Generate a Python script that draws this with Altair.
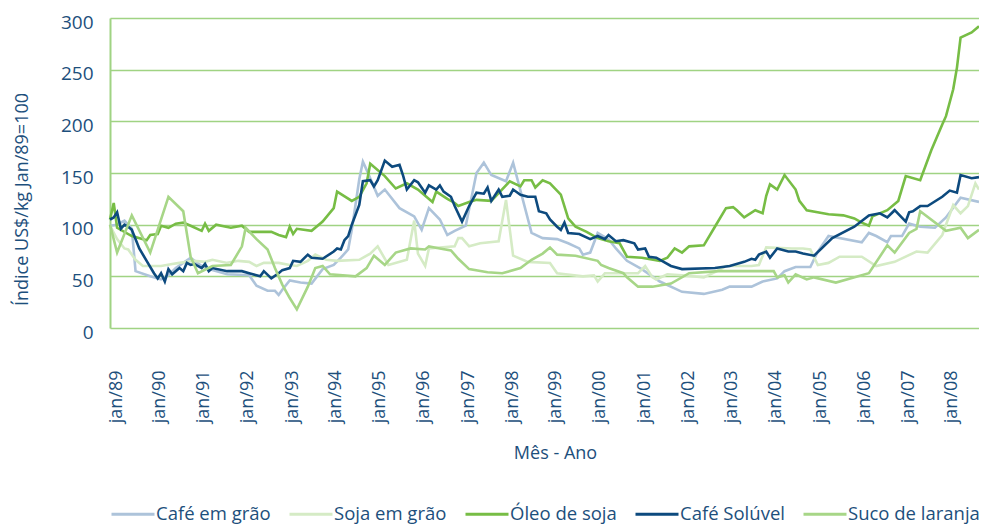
import altair as alt
import pandas as pd

SERIES = ["Café em grão", "Soja em grão", "Óleo de soja", "Café Solúvel", "Suco de laranja"]
COLORS = ["#adc3da", "#d5ebc5", "#77bd45", "#0d4a7e", "#a7d687"]

cafe_grao_dates = ["1989-01","1989-03","1989-05","1989-07","1989-08","1989-12","1990-03","1990-05","1990-07","1990-11",
    "1991-02","1991-05","1991-09","1992-03","1992-05","1992-08","1992-10","1992-11","1992-12","1993-02","1993-05","1993-08",
    "1993-11","1994-02","1994-04","1994-06","1994-07","1994-09","1994-10","1994-11","1995-02","1995-04","1995-08","1995-12",
    "1996-02","1996-04","1996-07","1996-09","1996-11","1997-02","1997-05","1997-07","1997-09","1998-01","1998-03","1998-08",
    "1998-11","1999-03","1999-06","1999-09","1999-10","1999-12","2000-02","2000-05","2000-07","2000-10","2001-02","2001-07",
    "2002-01","2002-07","2002-12","2003-02","2003-08","2003-11","2004-03","2004-05","2004-08","2004-12","2005-02","2005-05",
    "2006-02","2006-04","2006-06","2006-09","2006-10","2007-01","2007-03","2007-06","2007-10","2008-01","2008-05","2008-10"]
cafe_grao_vals = [99,100,104,96,55,50,47,51,58,68,
    60,56,52,51,41,36,36,32,37,46,44,43,
    57,61,68,76,95,144,161,153,128,134,116,108,
    95,116,105,90,94,99,150,160,148,142,160,92,
    87,86,82,77,71,73,92,86,77,65,57,45,
    35,33,37,40,40,45,48,55,59,59,74,89,
    83,92,89,83,89,89,101,98,97,107,126,122]

soja_grao_dates = ["1989-01","1989-03","1989-05","1989-06","1989-08","1989-10","1990-01","1990-03","1990-06","1990-08",
    "1990-12","1991-03","1991-05","1991-09","1991-12","1992-03","1992-05","1992-07","1992-11","1993-02","1993-04","1993-07",
    "1993-09","1993-12","1994-03","1994-09","1994-12","1995-02","1995-05","1995-10","1995-12","1996-01","1996-03","1996-04",
    "1996-11","1996-12","1997-01","1997-03","1997-06","1997-11","1998-01","1998-03","1998-07","1999-01","1999-03","1999-10",
    "2000-01","2000-02","2000-04","2000-11","2001-01","2001-03","2001-05","2001-06","2001-09","2002-01","2002-07","2002-10",
    "2003-01","2003-08","2003-10","2003-12","2004-07","2004-10","2004-12","2005-02","2005-05","2005-08","2006-02","2006-06",
    "2006-11","2007-05","2007-08","2007-12","2008-03","2008-05","2008-07","2008-09","2008-10"]
soja_grao_vals = [99,86,77,76,66,60,60,60,62,63,
    65,64,66,63,65,64,60,63,63,61,60,65,
    71,66,65,66,72,79,61,66,104,72,60,77,
    79,87,87,79,82,84,124,70,64,63,53,50,
    51,45,53,53,53,60,49,47,52,51,49,54,
    60,60,61,78,77,77,76,61,63,69,69,60,
    64,74,73,90,119,111,118,140,134]

oleo_dates = ["1989-01","1989-02","1989-03","1989-07","1989-11","1989-12","1990-02","1990-03","1990-05","1990-07",
    "1990-09","1990-11","1991-02","1991-03","1991-04","1991-06","1991-10","1992-01","1992-03","1992-09","1992-11","1993-01",
    "1993-02","1993-03","1993-04","1993-08","1993-11","1994-02","1994-03","1994-07","1994-09","1994-11","1994-12","1995-04",
    "1995-07","1995-10","1996-01","1996-05","1996-06","1996-09","1996-11","1996-12","1997-03","1997-05","1997-09","1998-02",
    "1998-05","1998-06","1998-08","1998-09","1998-11","1999-01","1999-04","1999-06","1999-08","1999-11","2000-02","2000-05",
    "2000-08","2000-10","2001-02","2001-07","2001-09","2001-11","2002-01","2002-03","2002-07","2002-10","2003-01","2003-03",
    "2003-04","2003-06","2003-09","2003-11","2003-12","2004-01","2004-03","2004-05","2004-08","2004-09","2004-11","2005-05",
    "2005-09","2005-12","2006-02","2006-04","2006-05","2006-09","2006-12","2007-02","2007-06","2007-09","2007-12","2008-01",
    "2008-03","2008-04","2008-05","2008-08","2008-10"]
oleo_vals = [105,121,97,89,85,90,91,99,97,101,
    102,99,94,101,94,100,97,99,93,93,90,88,
    98,91,96,94,103,116,132,123,127,140,159,147,
    135,140,134,122,132,125,121,118,122,124,123,142,
    137,143,143,136,143,140,129,106,98,93,87,84,
    82,69,68,65,68,77,73,79,80,98,116,117,
    114,107,114,111,128,139,134,148,134,123,114,110,
    109,106,102,99,108,114,123,147,143,172,197,205,
    231,252,281,286,292]

cafe_sol_dates = ["1989-01","1989-02","1989-03","1989-04","1989-05","1989-06","1989-07","1989-09","1989-11","1990-01",
    "1990-02","1990-03","1990-04","1990-05","1990-06","1990-08","1990-09","1990-10","1990-11","1990-12","1991-02","1991-03",
    "1991-04","1991-05","1991-09","1992-01","1992-03","1992-06","1992-07","1992-09","1992-11","1992-12","1993-02","1993-03",
    "1993-05","1993-07","1993-08","1993-11","1994-02","1994-03","1994-04","1994-05","1994-06","1994-07","1994-09","1994-10",
    "1994-12","1995-01","1995-02","1995-04","1995-06","1995-08","1995-09","1995-10","1995-12","1996-01","1996-03","1996-04",
    "1996-06","1996-07","1996-08","1996-10","1996-11","1997-01","1997-03","1997-05","1997-07","1997-08","1997-09","1997-11",
    "1997-12","1998-02","1998-03","1998-05","1998-07","1998-09","1998-10","1998-12","1999-01","1999-03","1999-04","1999-05",
    "1999-06","1999-09","1999-12","2000-02","2000-04","2000-05","2000-07","2000-09","2000-12","2001-01","2001-03","2001-04",
    "2001-06","2001-10","2002-01","2002-10","2003-02","2003-06","2003-08","2003-09","2003-10","2003-12","2004-01","2004-03",
    "2004-06","2004-08","2004-10","2005-01","2005-06","2005-12","2006-04","2006-07","2006-09","2006-11","2007-02","2007-03",
    "2007-04","2007-06","2007-08","2007-12","2008-02","2008-04","2008-05","2008-08","2008-10"]
cafe_sol_vals = [105,107,112,96,100,98,95,77,65,53,
    48,53,45,57,52,58,55,63,61,62,58,62,
    55,58,55,55,53,50,55,48,53,56,58,65,
    64,71,68,67,74,77,76,85,89,100,119,142,
    143,137,143,162,156,158,147,134,143,141,131,138,
    134,138,132,127,118,103,118,131,130,136,123,134,
    127,128,134,129,127,127,113,111,105,98,95,102,
    92,91,86,89,86,90,84,85,82,76,77,69,
    68,60,57,58,60,64,67,66,71,74,68,77,
    74,74,72,70,87,98,109,111,107,114,103,112,
    113,118,118,127,133,131,148,145,146]

suco_dates = ["1989-01","1989-03","1989-07","1989-12","1990-05","1990-09","1990-11","1991-01","1991-05","1991-10",
    "1992-01","1992-02","1992-05","1992-08","1992-10","1992-12","1993-02","1993-04","1993-07","1993-09","1993-11","1994-01",
    "1994-08","1994-11","1995-01","1995-04","1995-07","1995-11","1996-03","1996-04","1996-07","1996-10","1996-12","1997-03",
    "1997-08","1997-12","1998-05","1998-08","1998-11","1999-01","1999-03","1999-08","2000-02","2000-03","2000-05","2000-09",
    "2000-10","2001-01","2001-05","2001-10","2002-03","2002-11","2004-02","2004-03","2004-05","2004-06","2004-08","2004-11",
    "2005-01","2005-07","2006-04","2006-09","2006-11","2007-03","2007-05","2007-06","2008-01","2008-05","2008-07","2008-10"]
suco_vals = [100,73,109,73,127,113,69,53,60,61,
    79,97,86,76,58,42,29,18,40,58,60,52,
    50,58,70,61,73,77,76,79,77,75,67,57,
    54,53,58,66,72,78,71,70,65,61,58,53,
    49,40,40,43,53,55,55,49,51,44,52,47,
    49,44,53,80,73,92,96,113,94,97,87,95]

YEARS = list(range(1989, 2009))
TEXT = "#1d4f7c"
GRID = "#a0d383"
FONT = "Open Sans"

frames = []
for name, d, v in [(SERIES[0], cafe_grao_dates, cafe_grao_vals),
                   (SERIES[1], soja_grao_dates, soja_grao_vals),
                   (SERIES[2], oleo_dates, oleo_vals),
                   (SERIES[3], cafe_sol_dates, cafe_sol_vals),
                   (SERIES[4], suco_dates, suco_vals)]:
    frames.append(pd.DataFrame({"serie": name, "data": pd.to_datetime([s + "-01" for s in d]), "valor": v,
                                "ordem": SERIES.index(name)}))
df = pd.concat(frames, ignore_index=True)

chart = alt.Chart(df).mark_line(strokeWidth=2.6, strokeJoin="miter").encode(
    x=alt.X("data:T",
            scale=alt.Scale(domain=[alt.DateTime(year=1989, month=1, date=1),
                                    alt.DateTime(year=2008, month=10, date=1)]),
            axis=alt.Axis(values=[alt.DateTime(year=y, month=1, date=1) for y in YEARS],
                          labelExpr="lower(timeFormat(datum.value, '%b/%y'))",
                          labelAngle=-90, labelPadding=42, labelOffset=6, ticks=False, domain=False, grid=False,
                          labelFontSize=18, labelColor=TEXT, labelFont=FONT,
                          title="Mês - Ano", titleFontSize=18, titleColor=TEXT, titleFont=FONT,
                          titleFontWeight="normal", titlePadding=22, titleX=445)),
    y=alt.Y("valor:Q",
            scale=alt.Scale(domain=[0, 300], nice=False),
            axis=alt.Axis(values=[0, 50, 100, 150, 200, 250, 300], ticks=False, domain=True,
                          domainColor=GRID, domainWidth=2, gridColor=GRID, gridWidth=1.6, gridOpacity=1,
                          labelFontSize=19, labelColor=TEXT, labelFont=FONT, labelPadding=17, labelOffset=4,
                          title="Índice US$/kg Jan/89=100", titleFontSize=18, titleColor=TEXT,
                          titleFont=FONT, titleFontWeight="normal", titleX=-88, titleY=181,
                          titleBaseline="middle", titleAlign="center", titleAngle=270)),
    color=alt.Color("serie:N", sort=SERIES,
                    scale=alt.Scale(domain=SERIES, range=COLORS),
                    legend=alt.Legend(title=None, orient="none", direction="horizontal",
                                      legendX=0, legendY=473, symbolType="stroke", symbolSize=1849,
                                      symbolStrokeWidth=3, labelFontSize=18.5, labelColor=TEXT, labelFont=FONT,
                                      columnPadding=12, labelOffset=0, labelLimit=300)),
    order=alt.Order("ordem:Q"),
).properties(
    width=869, height=310,
    autosize=alt.AutoSizeParams(type="none"),
    padding={"left": 102, "top": 10, "right": 0, "bottom": 199},
).configure_view(stroke=None)

chart.save("out.html", embed_options={"renderer": "svg", "actions": False})
